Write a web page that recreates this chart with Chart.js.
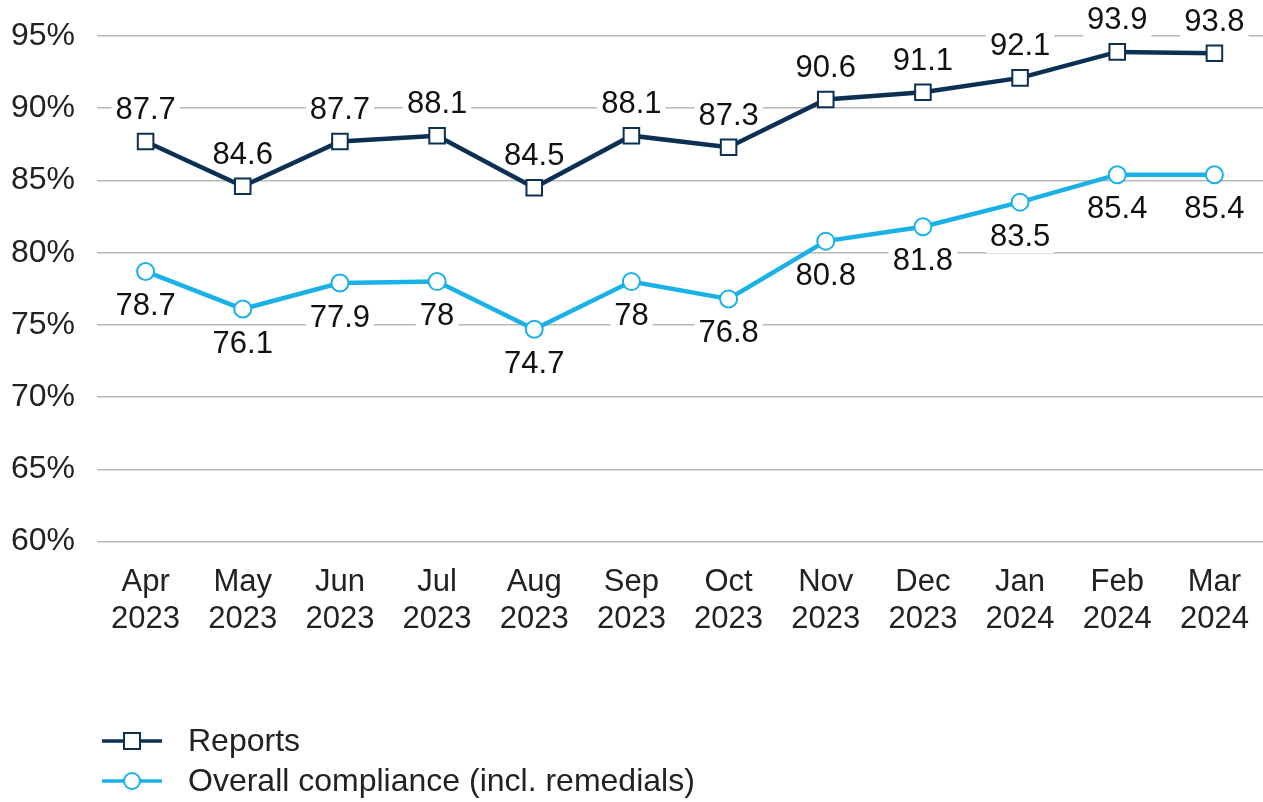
<!DOCTYPE html>
<html>
<head>
<meta charset="utf-8">
<script src="https://cdn.jsdelivr.net/npm/chart.js@4"></script>
<style>
  html, body { margin: 0; padding: 0; background: #fff; }
  #wrap { width: 1263px; height: 802px; position: relative; }
</style>
</head>
<body>
<div id="wrap"><canvas id="chart"></canvas></div>
<script>
const months = [
  ['Apr', '2023'], ['May', '2023'], ['Jun', '2023'], ['Jul', '2023'],
  ['Aug', '2023'], ['Sep', '2023'], ['Oct', '2023'], ['Nov', '2023'],
  ['Dec', '2023'], ['Jan', '2024'], ['Feb', '2024'], ['Mar', '2024']
];
const reports = [87.7, 84.6, 87.7, 88.1, 84.5, 88.1, 87.3, 90.6, 91.1, 92.1, 93.9, 93.8];
const compliance = [78.7, 76.1, 77.9, 78, 74.7, 78, 76.8, 80.8, 81.8, 83.5, 85.4, 85.4];
const yTicks = [60, 65, 70, 75, 80, 85, 90, 95];

const NAVY = '#0b3054';
const CYAN = '#1ab1e6';
const FONT = '"Liberation Sans", Arial, sans-serif';

// labels above for the first series, below for the second;
// drawn before the lines so the white boxes only hide gridlines
const labelPlugin = {
  id: 'valueLabels',
  beforeDatasetsDraw(chart) {
    const ctx = chart.ctx;
    ctx.save();
    ctx.font = '31px ' + FONT;
    ctx.textAlign = 'center';
    ctx.textBaseline = 'middle';
    chart.data.datasets.forEach((ds, i) => {
      const meta = chart.getDatasetMeta(i);
      meta.data.forEach((pt, j) => {
        const txt = String(ds.data[j]);
        const y = pt.y + (i === 0 ? -31 : 35);
        const w = ctx.measureText(txt).width + 8;
        ctx.fillStyle = '#fff';
        ctx.fillRect(pt.x - w / 2, y - 16, w, 32);
        ctx.fillStyle = '#111';
        ctx.fillText(txt, pt.x, y);
      });
    });
    ctx.restore();
  }
};

// legend: line + marker, stacked rows bottom-left
const legendPlugin = {
  id: 'lineLegend',
  afterDraw(chart) {
    const ctx = chart.ctx;
    ctx.save();
    ctx.font = '32px ' + FONT;
    ctx.textBaseline = 'middle';
    chart.data.datasets.forEach((ds, i) => {
      const y = 741 + i * 40;
      ctx.strokeStyle = ds.borderColor;
      ctx.lineWidth = 3.5;
      ctx.beginPath();
      ctx.moveTo(102, y);
      ctx.lineTo(162, y);
      ctx.stroke();
      ctx.fillStyle = '#fff';
      ctx.lineWidth = 2;
      if (ds.pointStyle === 'rect') {
        ctx.fillRect(124, y - 8, 16, 16);
        ctx.strokeRect(124, y - 8, 16, 16);
      } else {
        ctx.beginPath();
        ctx.arc(132, y, 8, 0, Math.PI * 2);
        ctx.fill();
        ctx.stroke();
      }
      ctx.fillStyle = '#222';
      ctx.fillText(ds.label, 188, y + 1);
    });
    ctx.restore();
  }
};

new Chart(document.getElementById('chart'), {
  type: 'line',
  data: {
    labels: months,
    datasets: [
      {
        label: 'Reports',
        data: reports,
        borderColor: NAVY,
        backgroundColor: '#fff',
        borderWidth: 4.5,
        pointStyle: 'rect',
        pointRadius: 11,
        pointBorderWidth: 2,
        pointBackgroundColor: '#fff',
        pointBorderColor: NAVY,
        clip: false
      },
      {
        label: 'Overall compliance (incl. remedials)',
        data: compliance,
        borderColor: CYAN,
        backgroundColor: '#fff',
        borderWidth: 4.5,
        pointStyle: 'circle',
        pointRadius: 8.5,
        pointBorderWidth: 2,
        pointBackgroundColor: '#fff',
        pointBorderColor: CYAN,
        clip: false
      }
    ]
  },
  options: {
    responsive: true,
    maintainAspectRatio: false,
    animation: false,
    layout: { autoPadding: false, padding: { top: 36, right: 0, bottom: 150, left: 0 } },
    plugins: {
      legend: { display: false },
      tooltip: { enabled: false }
    },
    scales: {
      x: {
        offset: true,
        grid: { display: false },
        border: { display: false },
        afterFit(axis) { axis.paddingLeft = 0; axis.paddingRight = 0; },
        ticks: {
          color: '#222',
          font: { family: FONT, size: 31 },
          padding: 14,
          maxRotation: 0,
          autoSkip: false
        }
      },
      y: {
        min: 60,
        max: 95,
        afterBuildTicks(axis) {
          axis.ticks = yTicks.map(v => ({ value: v }));
        },
        afterFit(axis) {
          axis.width = 97;
          axis.paddingTop = 0;
          axis.paddingBottom = 0;
        },
        grid: { color: '#b8b8b8', lineWidth: 1.5, drawTicks: false },
        border: { display: false },
        ticks: {
          color: '#222',
          font: { family: FONT, size: 32 },
          padding: 22,
          callback: v => v + '%'
        }
      }
    }
  },
  plugins: [labelPlugin, legendPlugin]
});
</script>
</body>
</html>
